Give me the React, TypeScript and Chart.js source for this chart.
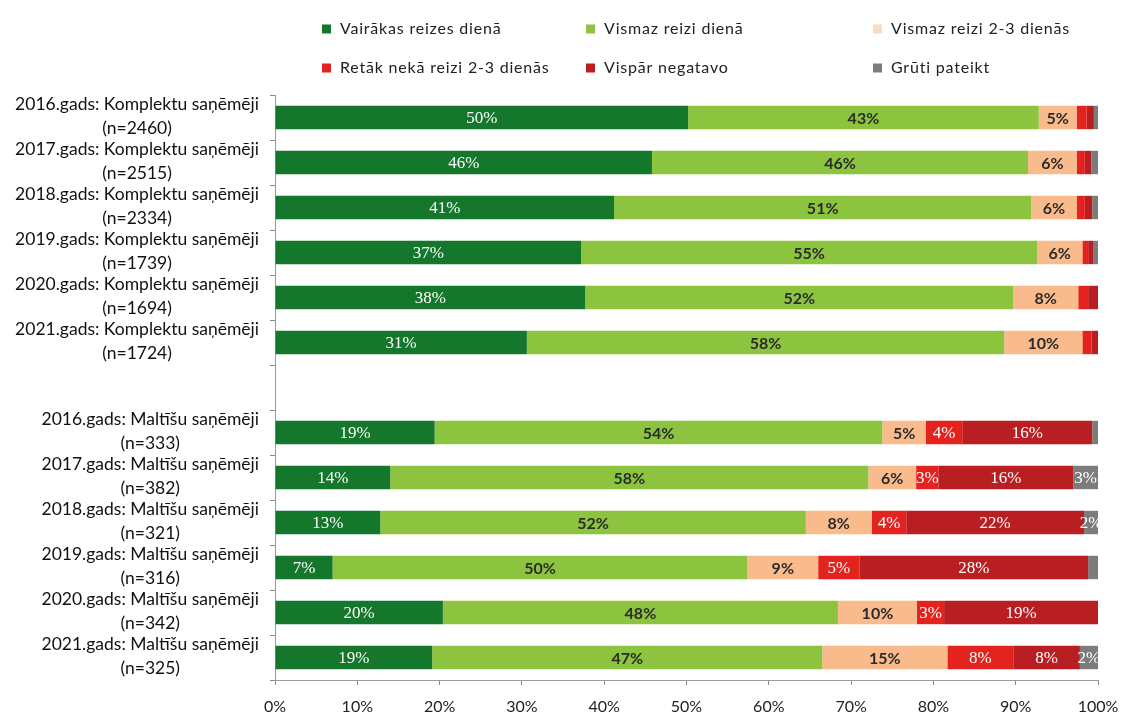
import React, { useEffect, useRef } from "react";
import { Chart, registerables } from "chart.js";

Chart.register(...registerables);

// ---------- DATA ----------
const categories: string[][] = [
  ["2016.gads: Komplektu saņēmēji", "(n=2460)"],
  ["2017.gads: Komplektu saņēmēji", "(n=2515)"],
  ["2018.gads: Komplektu saņēmēji", "(n=2334)"],
  ["2019.gads: Komplektu saņēmēji", "(n=1739)"],
  ["2020.gads: Komplektu saņēmēji", "(n=1694)"],
  ["2021.gads: Komplektu saņēmēji", "(n=1724)"],
  [""],
  ["2016.gads: Maltīšu saņēmēji", "(n=333)"],
  ["2017.gads: Maltīšu saņēmēji", "(n=382)"],
  ["2018.gads: Maltīšu saņēmēji", "(n=321)"],
  ["2019.gads: Maltīšu saņēmēji", "(n=316)"],
  ["2020.gads: Maltīšu saņēmēji", "(n=342)"],
  ["2021.gads: Maltīšu saņēmēji", "(n=325)"],
];

const seriesNames = [
  "Vairākas reizes dienā",
  "Vismaz reizi dienā",
  "Vismaz reizi 2-3 dienās",
  "Retāk nekā reizi 2-3 dienās",
  "Vispār negatavo",
  "Grūti pateikt",
];

const vairakasReizes = [50.2, 45.8, 41.2, 37.2, 37.7, 30.6, null, 19.4, 14.0, 12.8, 7.0, 20.4, 19.1];
const vismazDiena = [42.6, 45.7, 50.7, 55.4, 52.0, 58.0, null, 54.4, 58.1, 51.7, 50.4, 48.0, 47.4];
const vismaz23 = [4.6, 5.9, 5.5, 5.5, 7.9, 9.5, null, 5.3, 5.8, 8.0, 8.6, 9.6, 15.2];
const retak = [1.2, 1.0, 1.0, 0.7, 1.2, 1.1, null, 4.4, 2.7, 4.2, 5.0, 3.3, 8.0];
const vispar = [0.9, 0.8, 0.9, 0.6, 1.2, 0.8, null, 15.8, 16.4, 21.6, 27.8, 18.7, 8.1];
const gruti = [0.5, 0.8, 0.7, 0.6, 0.0, 0.0, null, 0.7, 3.0, 1.7, 1.2, 0.0, 2.2];

const xTickLabels = ["0%", "10%", "20%", "30%", "40%", "50%", "60%", "70%", "80%", "90%", "100%"];

// ---------- STYLE ----------
const colors = ["#15772b", "#8cc43f", "#f9bb8c", "#e4231f", "#b91f22", "#7c7c7c"];
const legendColors = ["#15772b", "#8cc43f", "#fbdcc0", "#e4231f", "#b91f22", "#7c7c7c"];
const labelColors = ["#ffffff", "#2b2b2b", "#2b2b2b", "#ffffff", "#ffffff", "#ffffff"];
const FONT = "Lato, 'Noto Sans', sans-serif";

const legendPlugin = {
  id: "gridLegend",
  afterDraw(chart: any) {
    const ctx = chart.ctx;
    const cols = [322, 586, 873];
    const rows = [29, 68];
    ctx.save();
    ctx.font = `16px ${FONT}`;
    try { (ctx as any).letterSpacing = "0.8px"; } catch (e) {}
    ctx.textBaseline = "middle";
    ctx.textAlign = "left";
    chart.data.datasets.forEach((ds: any, i: number) => {
      const x = cols[i % 3];
      const y = rows[Math.floor(i / 3)];
      ctx.fillStyle = legendColors[i];
      ctx.fillRect(x, y - 4.5, 9, 9);
      ctx.fillStyle = "#222";
      ctx.fillText(ds.label, x + 18, y);
    });
    ctx.restore();
  },
};

const yLabelPlugin = {
  id: "yLabels",
  afterDraw(chart: any) {
    const ctx = chart.ctx;
    const yScale = chart.scales.y;
    const right = 259;
    ctx.save();
    ctx.font = `17.5px ${FONT}`;
    ctx.fillStyle = "#111";
    ctx.textBaseline = "middle";
    ctx.textAlign = "center";
    (chart.data.labels as string[][]).forEach((lines, i) => {
      if (!lines || !lines[0]) return;
      const cy = yScale.getPixelForValue(i);
      const maxW = Math.max(...lines.map((l) => ctx.measureText(l).width));
      const cx = right - maxW / 2;
      const lh = 24;
      const start = cy - 1 - ((lines.length - 1) * lh) / 2;
      lines.forEach((l, k) => ctx.fillText(l, cx, start + k * lh));
    });
    ctx.restore();
  },
};

const dataLabelPlugin = {
  id: "segLabels",
  afterDatasetsDraw(chart: any) {
    const ctx = chart.ctx;
    ctx.save();
    ctx.textAlign = "center";
    ctx.textBaseline = "middle";
    chart.data.datasets.forEach((ds: any, di: number) => {
      const meta = chart.getDatasetMeta(di);
      meta.data.forEach((el: any, i: number) => {
        const v = ds.data[i];
        if (v == null) return;
        const r = Math.round(v);
        if (r < 2) return;
        const { x, base, y } = el.getProps(["x", "base", "y"], true);
        ctx.fillStyle = labelColors[di];
        ctx.font = labelColors[di] === "#ffffff" ? `17px 'Liberation Serif', serif` : `bold 16px ${FONT}`;
        ctx.fillText(r + "%", (x + base) / 2, y + 1);
      });
    });
    ctx.restore();
  },
};

export default function App() {
  const ref = useRef<HTMLCanvasElement>(null);
  useEffect(() => {
    if (!ref.current) return;
    const series = [vairakasReizes, vismazDiena, vismaz23, retak, vispar, gruti];
    const chart = new Chart(ref.current, {
      type: "bar",
      data: {
        labels: categories as any,
        datasets: series.map((d, i) => ({
          label: seriesNames[i],
          data: d as any,
          backgroundColor: colors[i],
          borderWidth: 0,
          categoryPercentage: 1,
          barPercentage: 0.52,
        })),
      },
      options: {
        indexAxis: "y",
        animation: false,
        responsive: true,
        maintainAspectRatio: false,
        layout: { padding: { top: 95, right: 23, left: 0, bottom: 0 } },
        plugins: { legend: { display: false }, tooltip: { enabled: false } },
        scales: {
          x: {
            stacked: true,
            min: 0,
            max: 100,
            ticks: {
              stepSize: 10,
              padding: 12,
              color: "#222",
              font: { family: FONT, size: 16 },
              callback: (v: any) => xTickLabels[Math.round(Number(v) / 10)],
            },
            grid: { drawOnChartArea: false, drawTicks: true, tickLength: 5, color: "#8a8a8a" },
            border: { display: true, color: "#9a9a9a" },
            afterFit: (s: any) => {
              s.height = 37;
              s.paddingLeft = 0;
              s.paddingRight = 0;
            },
          },
          y: {
            stacked: true,
            ticks: { display: false },
            grid: { drawOnChartArea: false, drawTicks: true, tickLength: 5, color: "#8a8a8a", offset: true },
            border: { display: true, color: "#9a9a9a" },
            afterFit: (s: any) => {
              s.width = 275;
              s.paddingTop = 0;
              s.paddingBottom = 0;
            },
          },
        },
      },
      plugins: [legendPlugin, yLabelPlugin, dataLabelPlugin],
    });
    return () => chart.destroy();
  }, []);
  return (
    <div style={{ position: "fixed", left: 0, top: 0, width: 1121, height: 717, background: "#fff" }}>
      <canvas ref={ref} />
    </div>
  );
}
